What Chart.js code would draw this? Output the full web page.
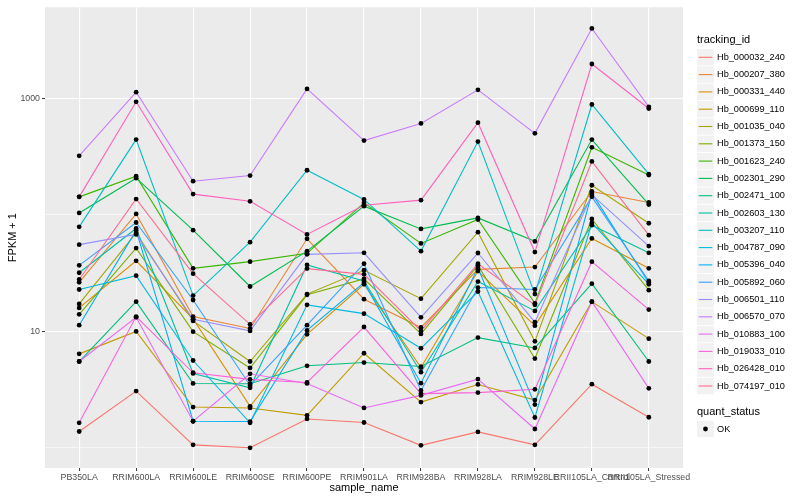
<!DOCTYPE html>
<html>
<head>
<meta charset="utf-8">
<script src="https://cdn.jsdelivr.net/npm/chart.js@4"></script>
<style>
  html, body { margin: 0; padding: 0; background: #fff; }
  canvas { display: block; }
</style>
</head>
<body>
<canvas id="chart" width="800" height="500"></canvas>
<script>
// categories on the x axis
const sampleNames = ["PB350LA", "RRIM600LA", "RRIM600LE", "RRIM600SE", "RRIM600PE", "RRIM901LA",
  "RRIM928BA", "RRIM928LA", "RRIM928LE", "RRII105LA_Control", "RRII105LA_Stressed"];

const trackingIds = ["Hb_000032_240", "Hb_000207_380", "Hb_000331_440", "Hb_000699_110", "Hb_001035_040",
  "Hb_001373_150", "Hb_001623_240", "Hb_002301_290", "Hb_002471_100", "Hb_002603_130", "Hb_003207_110",
  "Hb_004787_090", "Hb_005396_040", "Hb_005892_060", "Hb_006501_110", "Hb_006570_070", "Hb_010883_100",
  "Hb_019033_010", "Hb_026428_010", "Hb_074197_010"];

// ggplot hue palette, 20 levels
const seriesColors = ["#F8766D", "#EA8331", "#D89000", "#C09B00", "#A3A500", "#7CAE00", "#39B600", "#00BB4E",
  "#00BF7D", "#00C1A3", "#00BFC4", "#00BAE0", "#00B0F6", "#35A2FF", "#9590FF", "#C77CFF", "#E76BF3",
  "#FA62DB", "#FF62BC", "#FF6C91"];

// FPKM + 1, one value per sample
const hb_000032_240 = [1.38, 3.07, 1.06, 1.00, 1.77, 1.65, 1.05, 1.37, 1.06, 3.52, 1.83];
const hb_000207_380 = [26.4, 102, 13.4, 10.6, 62.4, 18.9, 10.8, 34.1, 35.7, 159, 128];
const hb_000331_440 = [15.9, 40.4, 12.8, 2.27, 9.43, 25.4, 4.89, 33.0, 11.2, 62.9, 34.8];
const hb_000699_110 = [6.41, 10.0, 2.24, 2.20, 1.90, 6.49, 2.47, 3.50, 2.57, 18.0, 8.66];
const hb_001035_040 = [17.2, 70.2, 12.3, 5.51, 20.9, 33.5, 19.1, 71.2, 8.21, 180, 84.9];
const hb_001373_150 = [14.0, 51.9, 9.94, 4.85, 20.6, 28.2, 9.50, 36.9, 5.84, 92.4, 22.6];
const hb_001623_240 = [143, 215, 34.8, 39.7, 46.8, 127, 56.9, 91.3, 17.4, 381, 220];
const hb_002301_290 = [104, 207, 74.0, 24.3, 48.9, 119, 75.9, 94.3, 59.3, 444, 123];
const hb_002471_100 = [5.51, 18.0, 3.57, 3.55, 5.06, 5.40, 4.99, 8.84, 7.21, 25.7, 5.51];
const hb_002603_130 = [31.9, 76.5, 4.35, 3.28, 37.2, 27.1, 4.46, 26.8, 15.0, 81.7, 47.3];
const hb_003207_110 = [79.0, 444, 20.3, 58.4, 242, 136, 48.9, 427, 20.9, 889, 224];
const hb_004787_090 = [22.9, 30.1, 5.62, 1.64, 16.9, 14.2, 7.16, 22.0, 1.82, 85.4, 25.4];
const hb_005396_040 = [11.3, 73.6, 1.69, 1.68, 10.2, 26.2, 3.59, 35.2, 2.35, 154, 26.2];
const hb_005892_060 = [36.9, 86.1, 18.6, 3.43, 11.3, 38.1, 3.11, 23.8, 22.9, 143, 27.1];
const hb_006501_110 = [55.6, 68.0, 12.7, 10.1, 45.9, 47.3, 13.2, 47.1, 12.0, 149, 54.0];
const hb_006570_070 = [322, 1134, 195, 218, 1210, 435, 611, 1187, 502, 3997, 849];
const hb_010883_100 = [5.51, 13.2, 1.69, 4.32, 3.57, 2.20, 2.82, 3.89, 1.45, 18.0, 3.24];
const hb_019033_010 = [1.64, 13.4, 4.41, 3.87, 3.64, 10.9, 2.92, 2.98, 3.18, 39.7, 15.4];
const hb_026428_010 = [143, 937, 151, 131, 68.0, 121, 134, 620, 48.0, 1980, 821];
const hb_074197_010 = [27.9, 137, 31.3, 11.5, 34.6, 30.9, 10.1, 38.1, 16.9, 288, 67.1];

const seriesValues = [hb_000032_240, hb_000207_380, hb_000331_440, hb_000699_110, hb_001035_040,
  hb_001373_150, hb_001623_240, hb_002301_290, hb_002471_100, hb_002603_130, hb_003207_110,
  hb_004787_090, hb_005396_040, hb_005892_060, hb_006501_110, hb_006570_070, hb_010883_100,
  hb_019033_010, hb_026428_010, hb_074197_010];

// y axis: gridlines at these, labels only on the major ones
const yTicks = [1, 10, 100, 1000];
const yLabelled = [10, 1000];

const FONT = "'Liberation Sans', Arial, sans-serif";

const datasets = trackingIds.map((id, i) => ({
  type: 'line',
  label: id,
  data: seriesValues[i].map((v, j) => ({ x: j, y: v })),
  borderColor: seriesColors[i],
  borderWidth: 1.1,
  pointRadius: 0,
  fill: false,
  tension: 0,
  order: 100 - i
}));

// all points in black on top of the lines (quant_status = OK)
const okPoints = [];
seriesValues.forEach(vals => vals.forEach((v, j) => okPoints.push({ x: j, y: v })));
datasets.push({
  type: 'scatter',
  label: 'OK',
  data: okPoints,
  pointRadius: 2.4,
  pointBackgroundColor: '#000',
  pointBorderWidth: 0,
  showLine: false,
  order: 0
});

const panelBg = {
  id: 'panelBg',
  beforeDraw(chart) {
    const a = chart.chartArea;
    const c = chart.ctx;
    c.save();
    c.fillStyle = '#EBEBEB';
    c.fillRect(a.left, a.top, a.right - a.left, a.bottom - a.top);
    c.restore();
  }
};

const ggLegend = {
  id: 'ggLegend',
  afterDraw(chart) {
    const c = chart.ctx;
    const x0 = 697;
    c.save();
    c.textBaseline = 'middle';
    c.textAlign = 'left';
    c.fillStyle = '#000';
    c.font = '11px ' + FONT;
    c.fillText('tracking_id', x0, 40);
    c.font = '9.2px ' + FONT;
    trackingIds.forEach((id, i) => {
      const y = 57.3 + 17.3 * i;
      c.fillStyle = '#F2F2F2';
      c.fillRect(x0, y - 8.2, 17, 16.4);
      c.strokeStyle = seriesColors[i];
      c.lineWidth = 1.1;
      c.beginPath();
      c.moveTo(x0 + 1.7, y);
      c.lineTo(x0 + 15.3, y);
      c.stroke();
      c.fillStyle = '#000';
      c.fillText(id, 717, y);
    });
    c.font = '11px ' + FONT;
    c.fillText('quant_status', x0, 412);
    c.fillStyle = '#F2F2F2';
    c.fillRect(x0, 429 - 8.2, 17, 16.4);
    c.fillStyle = '#000';
    c.beginPath();
    c.arc(x0 + 8.5, 429, 2.4, 0, Math.PI * 2);
    c.fill();
    c.font = '9.2px ' + FONT;
    c.fillText('OK', 717, 429);
    c.restore();
  }
};

new Chart(document.getElementById('chart'), {
  data: { datasets: datasets },
  options: {
    responsive: false,
    animation: false,
    devicePixelRatio: 1,
    events: [],
    layout: { padding: { left: 0, top: 5, right: 117, bottom: 0 } },
    plugins: { legend: { display: false }, tooltip: { enabled: false } },
    scales: {
      x: {
        type: 'linear',
        min: -0.6,
        max: 10.6,
        afterBuildTicks: s => { s.ticks = sampleNames.map((_, i) => ({ value: i })); },
        afterFit: s => { s.height = 32; },
        border: { display: false },
        grid: { color: '#FFFFFF', lineWidth: 1.1, tickColor: '#333333', tickWidth: 1, tickLength: 3 },
        ticks: {
          autoSkip: false, maxRotation: 0, minRotation: 0, padding: 1,
          color: '#4D4D4D', font: { family: FONT, size: 8.8 },
          callback: v => sampleNames[v]
        },
        title: { display: true, text: 'sample_name', color: '#000', font: { family: FONT, size: 11 },
          padding: { top: 0, bottom: 5 } }
      },
      y: {
        type: 'logarithmic',
        min: 0.6707,
        max: 6078,
        afterBuildTicks: s => { s.ticks = yTicks.map(v => ({ value: v })); },
        afterFit: s => { s.width = 45; },
        border: { display: false },
        grid: {
          color: '#FFFFFF',
          lineWidth: ctx => yLabelled.includes(ctx.tick && ctx.tick.value) ? 1.1 : 0.55,
          tickColor: ctx => yLabelled.includes(ctx.tick && ctx.tick.value) ? '#333333' : 'rgba(0,0,0,0)',
          tickWidth: 1,
          tickLength: 3
        },
        ticks: {
          padding: 2, color: '#4D4D4D', font: { family: FONT, size: 8.8 },
          callback: v => yLabelled.includes(v) ? String(v) : ''
        },
        title: { display: true, text: 'FPKM + 1', color: '#000', font: { family: FONT, size: 11 },
          padding: { top: 6, bottom: 0 } }
      }
    }
  },
  plugins: [panelBg, ggLegend]
});
</script>
</body>
</html>
